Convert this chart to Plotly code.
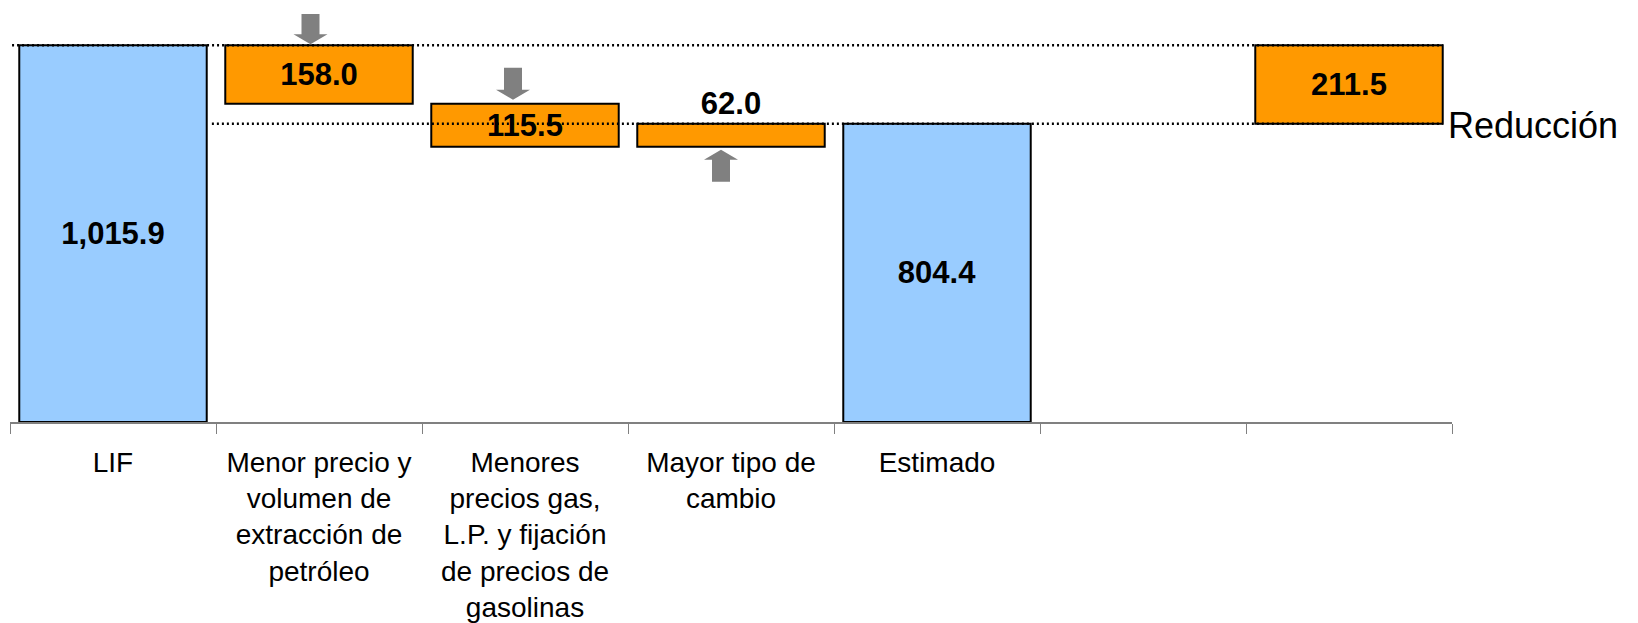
import plotly.graph_objects as go

# ---- data ----
categories = [
    "LIF",
    "Menor precio y<br>volumen de<br>extracción de<br>petróleo",
    "Menores<br>precios gas,<br>L.P. y fijación<br>de precios de<br>gasolinas",
    "Mayor tipo de<br>cambio",
    "Estimado",
    " ",
    "  ",
]
lif = 1015.9
changes = [-158.0, -115.5, 62.0]
estimado = 804.4
reduccion_label = "Reducción"

# ---- derived bar geometry (waterfall) ----
bases = [0]
heights = [lif]
running = lif
for c in changes:
    bases.append(running)
    heights.append(c)
    running = round(running + c, 1)
bases.append(0)
heights.append(estimado)
bases.append(None)
heights.append(None)
reduction = round(lif - estimado, 1)
bases.append(estimado)
heights.append(reduction)

BLUE = "#99CCFF"
ORANGE = "#FF9900"
colors = [BLUE, ORANGE, ORANGE, ORANGE, BLUE, BLUE, ORANGE]
texts = [f"{abs(h):,.1f}" if h is not None else "" for h in heights]
textpos = ["inside", "inside", "inside", "outside", "inside", "inside", "inside"]

fig = go.Figure()
fig.add_trace(go.Bar(
    x=categories,
    y=heights,
    base=[b if b is not None else 0 for b in bases],
    marker=dict(color=colors, line=dict(color="black", width=2)),
    text=texts,
    textposition=textpos,
    insidetextanchor="middle",
    textangle=0,
    constraintext="none",
    cliponaxis=False,
    textfont=dict(family="Liberation Sans, Arial", size=31, color="black", weight="bold"),
    hoverinfo="skip",
))

# dotted reference lines
DOT = dict(color="black", width=2.5, dash="2px,3px")
fig.add_shape(type="line", xref="x", yref="y", x0=-0.49, x1=6.455, y0=lif, y1=lif,
              line=DOT, layer="above")
fig.add_shape(type="line", xref="x", yref="y", x0=0.48, x1=6.455, y0=estimado, y1=estimado,
              line=DOT, layer="above")

# block arrows (pixel-sized, anchored to the bar ends)
def arrow(xcat, yval, dx, gap, down=True):
    hw, hh, sw, sl = 17, 10, 9, 22
    s = 1 if down else -1
    pts = [
        (dx, s * gap),
        (dx - hw, s * (gap + hh)),
        (dx - sw, s * (gap + hh)),
        (dx - sw, s * (gap + hh + sl)),
        (dx + sw, s * (gap + hh + sl)),
        (dx + sw, s * (gap + hh)),
        (dx + hw, s * (gap + hh)),
    ]
    path = "M " + " L ".join(f"{px},{py}" for px, py in pts) + " Z"
    fig.add_shape(type="path", xref="x", yref="y", xsizemode="pixel", ysizemode="pixel",
                  xanchor=xcat, yanchor=yval, path=path,
                  fillcolor="#808080", line=dict(width=0), layer="above")

arrow(1, bases[1], -8.5, 1, down=True)
arrow(2, bases[2], -12, 4, down=True)
arrow(3, bases[3], -10, 3, down=False)

fig.add_annotation(x=6.455, y=estimado, xref="x", yref="y", text=reduccion_label,
                   showarrow=False, xanchor="left", yanchor="middle", xshift=3, yshift=-2,
                   font=dict(family="Liberation Sans, Arial", size=36, color="black"))

fig.update_layout(
    width=1638, height=623,
    margin=dict(l=2, r=194, t=6, b=209),
    plot_bgcolor="white", paper_bgcolor="white",
    bargap=0.09,
    showlegend=False,
)
fig.update_xaxes(
    type="category",
    range=[-0.5, len(categories) - 0.5],
    automargin=False,
    tickangle=0,
    tickson="boundaries",
    ticks="outside", ticklen=10, tickcolor="#808080", tickwidth=1,
    showline=True, linecolor="#808080", linewidth=2,
    showgrid=False,
    tickfont=dict(family="Liberation Sans, Arial", size=28, color="black"),
    ticklabelstandoff=14,
)
fig.update_yaxes(range=[0, 1100], visible=False, showgrid=False, zeroline=False,
                 automargin=False)

fig.write_html("out.html")
